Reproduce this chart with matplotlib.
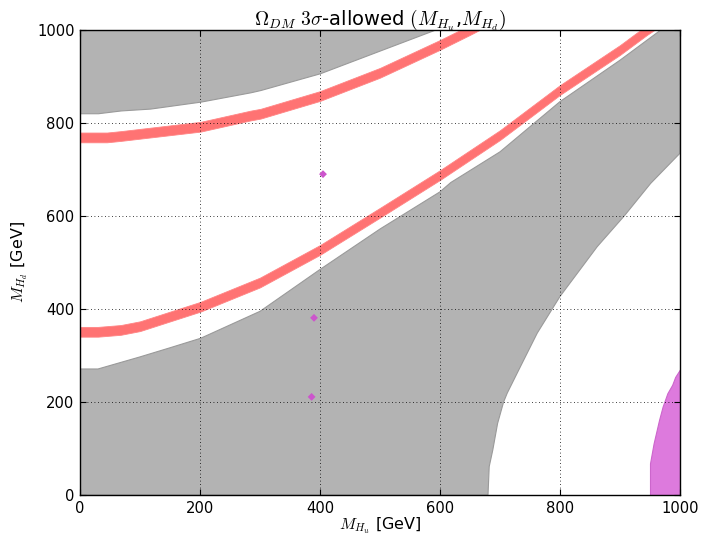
import numpy as np
import matplotlib
matplotlib.use("Agg")
import matplotlib.pyplot as plt

plt.rcParams['mathtext.fontset'] = 'cm'
plt.rcParams['font.family'] = ['DejaVu Sans']

# ---- data (GeV) ----
# upper-left excluded (gray) region: lower boundary
ul_x = [0, 30, 68, 117, 201, 284, 301, 400, 500, 590]
ul_y = [821, 821, 827, 831, 846, 866, 871, 907, 956, 1000]

# lower excluded (gray) region: upper (diagonal) boundary
lg_top_x = [0, 30, 100, 151, 201, 300, 400, 500, 600, 618, 700, 800, 900, 968]
lg_top_y = [271, 271, 297, 317, 337, 395, 485, 572, 652, 672, 738, 846, 935, 1000]
# lower excluded region: right-hand (lower) boundary
lg_bot_x = [680, 682, 688, 696, 706, 712, 734, 762, 787, 800, 829, 862, 907, 951, 1000]
lg_bot_y = [0, 61, 97, 154, 200, 219, 276, 348, 400, 427, 477, 534, 600, 670, 735]

# red allowed bands (centre line, vertical width)
band1_x = [0, 45, 68, 201, 284, 301, 400, 500, 600, 650, 680]
band1_y = [769, 769, 772, 792, 816, 820, 858, 908, 968, 1000, 1020]
band2_x = [0, 30, 68, 100, 201, 300, 400, 500, 600, 700, 800, 900, 945, 980]
band2_y = [351, 351, 355, 363, 405, 457, 527, 607, 688, 774, 871, 957, 1000, 1030]
band_width = 21

# magenta region (bottom right)
mag_x = [950, 950, 956, 965, 971, 979, 987, 992, 1000]
mag_y = [0, 68, 111, 161, 190, 219, 237, 254, 270]

# isolated magenta points
pts_x = [405, 390, 386]
pts_y = [690, 381, 211]

xticks = [0, 200, 400, 600, 800, 1000]
yticks = [0, 200, 400, 600, 800, 1000]

# ---- figure ----
fig = plt.figure(figsize=(7.03, 5.37), dpi=100)
ax = fig.add_axes([80 / 703, 1 - 495 / 537, 600 / 703, 465 / 537])

gray = '#b3b3b3'
gray_edge = '#9a9a9a'

ax.fill_between(ul_x, ul_y, 1000, facecolor=gray, edgecolor=gray_edge, linewidth=0.8, zorder=1)

poly_x = [0] + lg_top_x + [1000] + lg_bot_x[::-1]
poly_y = [0] + lg_top_y + [1000] + lg_bot_y[::-1]
ax.fill(poly_x, poly_y, facecolor=gray, edgecolor=gray_edge, linewidth=0.8, zorder=1)

red = '#ff7373'
for bx, by in ((band1_x, band1_y), (band2_x, band2_y)):
    by = np.asarray(by, dtype=float)
    ax.fill_between(bx, by - band_width / 2, by + band_width / 2,
                    facecolor=red, edgecolor='#ff8585', linewidth=0.6, zorder=2)

ax.fill_between(mag_x, 0, mag_y, facecolor='#dd7add', edgecolor='#cc66cc', linewidth=0.8, zorder=2)
ax.scatter(pts_x, pts_y, marker='D', s=16, color='#cc55cc', edgecolors='none', zorder=3)

ax.set_xlim(0, 1000)
ax.set_ylim(0, 1000)
ax.set_xticks(xticks)
ax.set_yticks(yticks)
ax.tick_params(direction='in', top=True, right=True, length=4, width=0.8,
               labelsize=10.6, pad=4, colors='black')
ax.grid(True, color='black', linestyle=(0, (1, 3.2)), linewidth=0.6)
ax.set_axisbelow(False)
for s in ax.spines.values():
    s.set_linewidth(1.0)
    s.set_zorder(5)

ax.set_title(r'$\Omega_{DM}$ $3\sigma$-allowed $(M_{H_u}$,$M_{H_d})$', fontsize=14, pad=3)
ax.set_xlabel(r'$M_{H_u}$ [GeV]', fontsize=11.5, labelpad=0)
ax.set_ylabel(r'$M_{H_d}$ [GeV]', fontsize=11.5, labelpad=5)

fig.savefig('out.png', dpi=100)
